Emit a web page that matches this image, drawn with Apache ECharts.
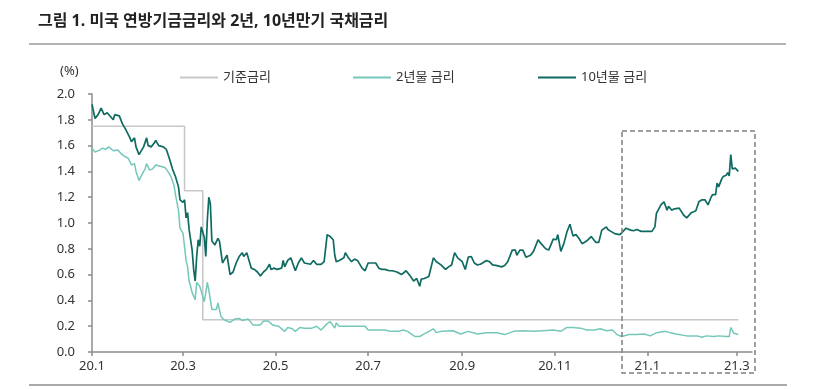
<!DOCTYPE html>
<html><head><meta charset="utf-8">
<script src="https://cdn.jsdelivr.net/npm/echarts@6/dist/echarts.min.js"></script>
<style>html,body{margin:0;padding:0;background:#fff}#c{width:814px;height:389px}</style>
</head><body><div id="c"></div>
<script>
const chartTitle = '그림 1. 미국 연방기금금리와 2년, 10년만기 국채금리';
const seriesNames = ['기준금리', '2년물 금리', '10년물 금리'];
const unitLabel = '(%)';
const xTickDates = ['2020-01-01','2020-03-01','2020-05-01','2020-07-01','2020-09-01','2020-11-01','2021-01-01','2021-03-01'];
const xAxisStart = '2020-01-01';
const xAxisEnd = '2021-03-11';

const fedDates = ['2020-01-01','2020-03-02','2020-03-14','2021-03-02'];
const fedValues = [1.75, 1.25, 0.25, 0.25];

const dates2y = ['2020-01-01','2020-01-03','2020-01-06','2020-01-08','2020-01-10','2020-01-12','2020-01-15','2020-01-18','2020-01-20','2020-01-22','2020-01-25','2020-01-27','2020-01-29','2020-01-30','2020-02-01','2020-02-02','2020-02-05','2020-02-06','2020-02-08','2020-02-10','2020-02-12','2020-02-15','2020-02-18','2020-02-20','2020-02-22','2020-02-24','2020-02-25','2020-02-27','2020-02-28','2020-03-01','2020-03-02','2020-03-03','2020-03-04','2020-03-05','2020-03-06','2020-03-07','2020-03-09','2020-03-10','2020-03-12','2020-03-13','2020-03-15','2020-03-16','2020-03-17','2020-03-18','2020-03-20','2020-03-23','2020-03-24','2020-03-26','2020-03-28','2020-04-01','2020-04-04','2020-04-07','2020-04-09','2020-04-13','2020-04-16','2020-04-21','2020-04-23','2020-04-26','2020-04-29','2020-05-03','2020-05-07','2020-05-09','2020-05-12','2020-05-14','2020-05-17','2020-05-20','2020-05-25','2020-05-28','2020-05-31','2020-06-04','2020-06-06','2020-06-09','2020-06-10','2020-06-12','2020-06-18','2020-06-24','2020-06-29','2020-07-01','2020-07-05','2020-07-12','2020-07-16','2020-07-21','2020-07-24','2020-07-27','2020-07-30','2020-08-01','2020-08-04','2020-08-07','2020-08-10','2020-08-13','2020-08-15','2020-08-18','2020-08-26','2020-08-31','2020-09-05','2020-09-11','2020-09-17','2020-09-24','2020-09-29','2020-10-05','2020-10-11','2020-10-18','2020-10-24','2020-10-31','2020-11-05','2020-11-09','2020-11-13','2020-11-18','2020-11-22','2020-11-27','2020-12-01','2020-12-05','2020-12-09','2020-12-12','2020-12-15','2020-12-20','2020-12-25','2020-12-30','2021-01-03','2021-01-07','2021-01-13','2021-01-16','2021-01-20','2021-01-27','2021-02-03','2021-02-06','2021-02-09','2021-02-14','2021-02-17','2021-02-22','2021-02-24','2021-02-25','2021-02-27','2021-03-02'];
const values2y = [1.58,1.55,1.565,1.58,1.57,1.59,1.56,1.565,1.54,1.52,1.50,1.45,1.46,1.40,1.33,1.355,1.42,1.46,1.41,1.42,1.45,1.44,1.43,1.40,1.36,1.295,1.22,1.10,0.96,0.92,0.91,0.71,0.66,0.55,0.51,0.46,0.405,0.54,0.51,0.47,0.39,0.46,0.54,0.48,0.33,0.33,0.38,0.275,0.25,0.23,0.255,0.26,0.245,0.255,0.21,0.21,0.24,0.24,0.21,0.20,0.16,0.19,0.18,0.16,0.19,0.185,0.185,0.20,0.17,0.22,0.235,0.185,0.225,0.20,0.20,0.20,0.20,0.17,0.17,0.17,0.16,0.16,0.17,0.16,0.135,0.12,0.12,0.14,0.16,0.18,0.15,0.16,0.165,0.14,0.16,0.14,0.15,0.15,0.135,0.16,0.165,0.16,0.165,0.17,0.16,0.19,0.19,0.185,0.17,0.17,0.18,0.165,0.17,0.135,0.12,0.135,0.135,0.14,0.125,0.15,0.16,0.15,0.14,0.125,0.125,0.115,0.125,0.12,0.125,0.12,0.12,0.19,0.145,0.135];

const dates10y = ['2020-01-01','2020-01-03','2020-01-05','2020-01-07','2020-01-09','2020-01-11','2020-01-15','2020-01-16','2020-01-19','2020-01-21','2020-01-23','2020-01-26','2020-01-27','2020-01-29','2020-01-30','2020-02-01','2020-02-02','2020-02-04','2020-02-06','2020-02-07','2020-02-09','2020-02-11','2020-02-12','2020-02-14','2020-02-17','2020-02-19','2020-02-21','2020-02-23','2020-02-25','2020-02-27','2020-02-28','2020-03-01','2020-03-02','2020-03-03','2020-03-04','2020-03-05','2020-03-07','2020-03-08','2020-03-09','2020-03-10','2020-03-11','2020-03-12','2020-03-13','2020-03-15','2020-03-16','2020-03-17','2020-03-18','2020-03-19','2020-03-20','2020-03-22','2020-03-24','2020-03-25','2020-03-27','2020-03-28','2020-03-30','2020-04-01','2020-04-03','2020-04-05','2020-04-07','2020-04-09','2020-04-10','2020-04-12','2020-04-13','2020-04-15','2020-04-17','2020-04-19','2020-04-21','2020-04-23','2020-04-25','2020-04-27','2020-04-28','2020-04-30','2020-05-02','2020-05-05','2020-05-06','2020-05-07','2020-05-09','2020-05-11','2020-05-14','2020-05-16','2020-05-18','2020-05-20','2020-05-24','2020-05-26','2020-05-28','2020-05-31','2020-06-02','2020-06-04','2020-06-06','2020-06-08','2020-06-09','2020-06-10','2020-06-12','2020-06-15','2020-06-16','2020-06-18','2020-06-20','2020-06-22','2020-06-24','2020-06-27','2020-06-29','2020-07-01','2020-07-03','2020-07-06','2020-07-08','2020-07-10','2020-07-12','2020-07-15','2020-07-17','2020-07-20','2020-07-23','2020-07-26','2020-07-29','2020-07-31','2020-08-02','2020-08-04','2020-08-05','2020-08-07','2020-08-10','2020-08-13','2020-08-15','2020-08-18','2020-08-21','2020-08-23','2020-08-25','2020-08-27','2020-08-29','2020-09-01','2020-09-03','2020-09-05','2020-09-07','2020-09-09','2020-09-11','2020-09-13','2020-09-17','2020-09-19','2020-09-21','2020-09-24','2020-09-27','2020-09-29','2020-10-01','2020-10-04','2020-10-06','2020-10-07','2020-10-09','2020-10-11','2020-10-13','2020-10-16','2020-10-18','2020-10-21','2020-10-23','2020-10-26','2020-10-28','2020-10-31','2020-11-02','2020-11-03','2020-11-05','2020-11-07','2020-11-09','2020-11-11','2020-11-13','2020-11-15','2020-11-17','2020-11-19','2020-11-22','2020-11-25','2020-11-28','2020-11-30','2020-12-02','2020-12-05','2020-12-06','2020-12-08','2020-12-09','2020-12-11','2020-12-14','2020-12-16','2020-12-18','2020-12-21','2020-12-23','2020-12-25','2020-12-28','2020-12-31','2021-01-04','2021-01-06','2021-01-07','2021-01-10','2021-01-12','2021-01-13','2021-01-14','2021-01-15','2021-01-17','2021-01-19','2021-01-22','2021-01-25','2021-01-27','2021-01-30','2021-02-02','2021-02-04','2021-02-06','2021-02-08','2021-02-10','2021-02-12','2021-02-13','2021-02-15','2021-02-16','2021-02-17','2021-02-19','2021-02-20','2021-02-22','2021-02-23','2021-02-24','2021-02-25','2021-02-26','2021-02-28','2021-03-02'];
const values10y = [1.92,1.81,1.84,1.89,1.84,1.855,1.80,1.84,1.83,1.77,1.73,1.66,1.63,1.66,1.59,1.53,1.54,1.59,1.66,1.60,1.59,1.62,1.64,1.60,1.59,1.57,1.50,1.42,1.36,1.28,1.18,1.16,1.18,1.04,1.08,0.95,0.79,0.64,0.55,0.74,0.87,0.82,0.97,0.89,0.74,1.02,1.20,1.15,0.86,0.83,0.88,0.86,0.69,0.71,0.75,0.60,0.62,0.69,0.74,0.77,0.74,0.77,0.78,0.65,0.64,0.62,0.59,0.62,0.64,0.68,0.64,0.65,0.64,0.65,0.71,0.66,0.71,0.73,0.63,0.69,0.73,0.69,0.68,0.71,0.68,0.68,0.70,0.91,0.895,0.87,0.75,0.70,0.71,0.73,0.77,0.73,0.70,0.72,0.71,0.65,0.63,0.69,0.69,0.69,0.65,0.64,0.64,0.63,0.63,0.62,0.60,0.63,0.585,0.55,0.57,0.51,0.565,0.57,0.585,0.73,0.70,0.675,0.64,0.66,0.675,0.77,0.73,0.70,0.64,0.735,0.74,0.69,0.675,0.68,0.71,0.70,0.675,0.67,0.66,0.67,0.70,0.79,0.79,0.75,0.79,0.79,0.735,0.75,0.78,0.87,0.84,0.80,0.79,0.875,0.87,0.91,0.78,0.84,0.93,0.99,0.90,0.91,0.88,0.84,0.86,0.895,0.85,0.85,0.945,0.97,0.95,0.935,0.95,0.915,0.91,0.935,0.96,0.945,0.94,0.95,0.935,0.935,0.935,0.97,1.075,1.14,1.165,1.15,1.10,1.13,1.10,1.11,1.115,1.06,1.04,1.08,1.095,1.165,1.18,1.18,1.14,1.20,1.22,1.22,1.31,1.28,1.34,1.36,1.37,1.39,1.365,1.53,1.42,1.425,1.40];

function ts(s) { const p = s.split('-').map(Number); return new Date(p[0], p[1] - 1, p[2]).getTime(); }
function pairs(ds, vs) { return ds.map((d, i) => [ts(d), vs[i]]); }
const tickTs = xTickDates.map(ts);
const FONT = "'Noto Sans','Noto Sans CJK KR',sans-serif";

const chart = echarts.init(document.getElementById('c'), null, {renderer: 'canvas'});
chart.setOption({
  animation: false,
  backgroundColor: '#fff',
  title: {text: chartTitle, left: 38, top: 13, padding: 0, textStyle: {fontSize: 16, fontWeight: 'bold', color: '#222', fontFamily: FONT}},
  legend: [
    {data: [seriesNames[0]], left: 175, top: 66},
    {data: [seriesNames[1]], left: 348, top: 66},
    {data: [seriesNames[2]], left: 533, top: 66}
  ].map(l => Object.assign(l, {icon: 'rect', itemWidth: 38, itemHeight: 2, itemGap: 0, textStyle: {fontSize: 13, color: '#333', fontFamily: FONT}})),
  grid: {left: 92, right: 62, top: 94, bottom: 37},
  xAxis: {
    type: 'value', min: ts(xAxisStart), max: ts(xAxisEnd),
    axisLine: {lineStyle: {color: '#8c8c8c', width: 1.5}},
    axisTick: {show: true, customValues: tickTs, length: 4, lineStyle: {color: '#8c8c8c', width: 1.5}},
    axisLabel: {customValues: tickTs, formatter: v => { const d = new Date(v); return String(d.getFullYear()).slice(2) + '.' + (d.getMonth() + 1); }, color: '#333', fontSize: 13, margin: 8, fontFamily: FONT},
    splitLine: {show: false}
  },
  yAxis: {
    type: 'value', min: 0, max: 2, interval: 0.2,
    axisLine: {show: true, lineStyle: {color: '#8c8c8c', width: 1.5}},
    axisTick: {show: true, length: 4, lineStyle: {color: '#8c8c8c', width: 1.5}},
    axisLabel: {formatter: v => v.toFixed(1), color: '#333', fontSize: 13, margin: 17, fontFamily: FONT},
    splitLine: {show: false}
  },
  graphic: [
    {type: 'text', style: {text: unitLabel, x: 60, y: 71, verticalAlign: 'middle', font: "13px 'Noto Sans','Noto Sans CJK KR',sans-serif", fill: '#333'}},
    {type: 'line', shape: {x1: 29, y1: 44, x2: 786, y2: 44}, style: {stroke: '#9a9a9a', lineWidth: 1.5}},
    {type: 'line', shape: {x1: 29, y1: 385, x2: 787, y2: 385}, style: {stroke: '#8c8c8c', lineWidth: 1.5}},
    {type: 'rect', shape: {x: 622, y: 131, width: 133, height: 242}, style: {fill: 'none', stroke: '#808080', lineWidth: 1.5, lineDash: [5, 3]}, z: 10}
  ],
  series: [
    {name: seriesNames[0], type: 'line', step: 'end', symbol: 'none', data: pairs(fedDates, fedValues), itemStyle: {color: '#c8c8c8'}, lineStyle: {color: '#c8c8c8', width: 1.6}, z: 1},
    {name: seriesNames[1], type: 'line', symbol: 'none', data: pairs(dates2y, values2y), itemStyle: {color: '#74c8ba'}, lineStyle: {color: '#74c8ba', width: 1.5}, z: 2},
    {name: seriesNames[2], type: 'line', symbol: 'none', data: pairs(dates10y, values10y), itemStyle: {color: '#0f6b61'}, lineStyle: {color: '#0f6b61', width: 1.7}, z: 3}
  ]
});
</script></body></html>
